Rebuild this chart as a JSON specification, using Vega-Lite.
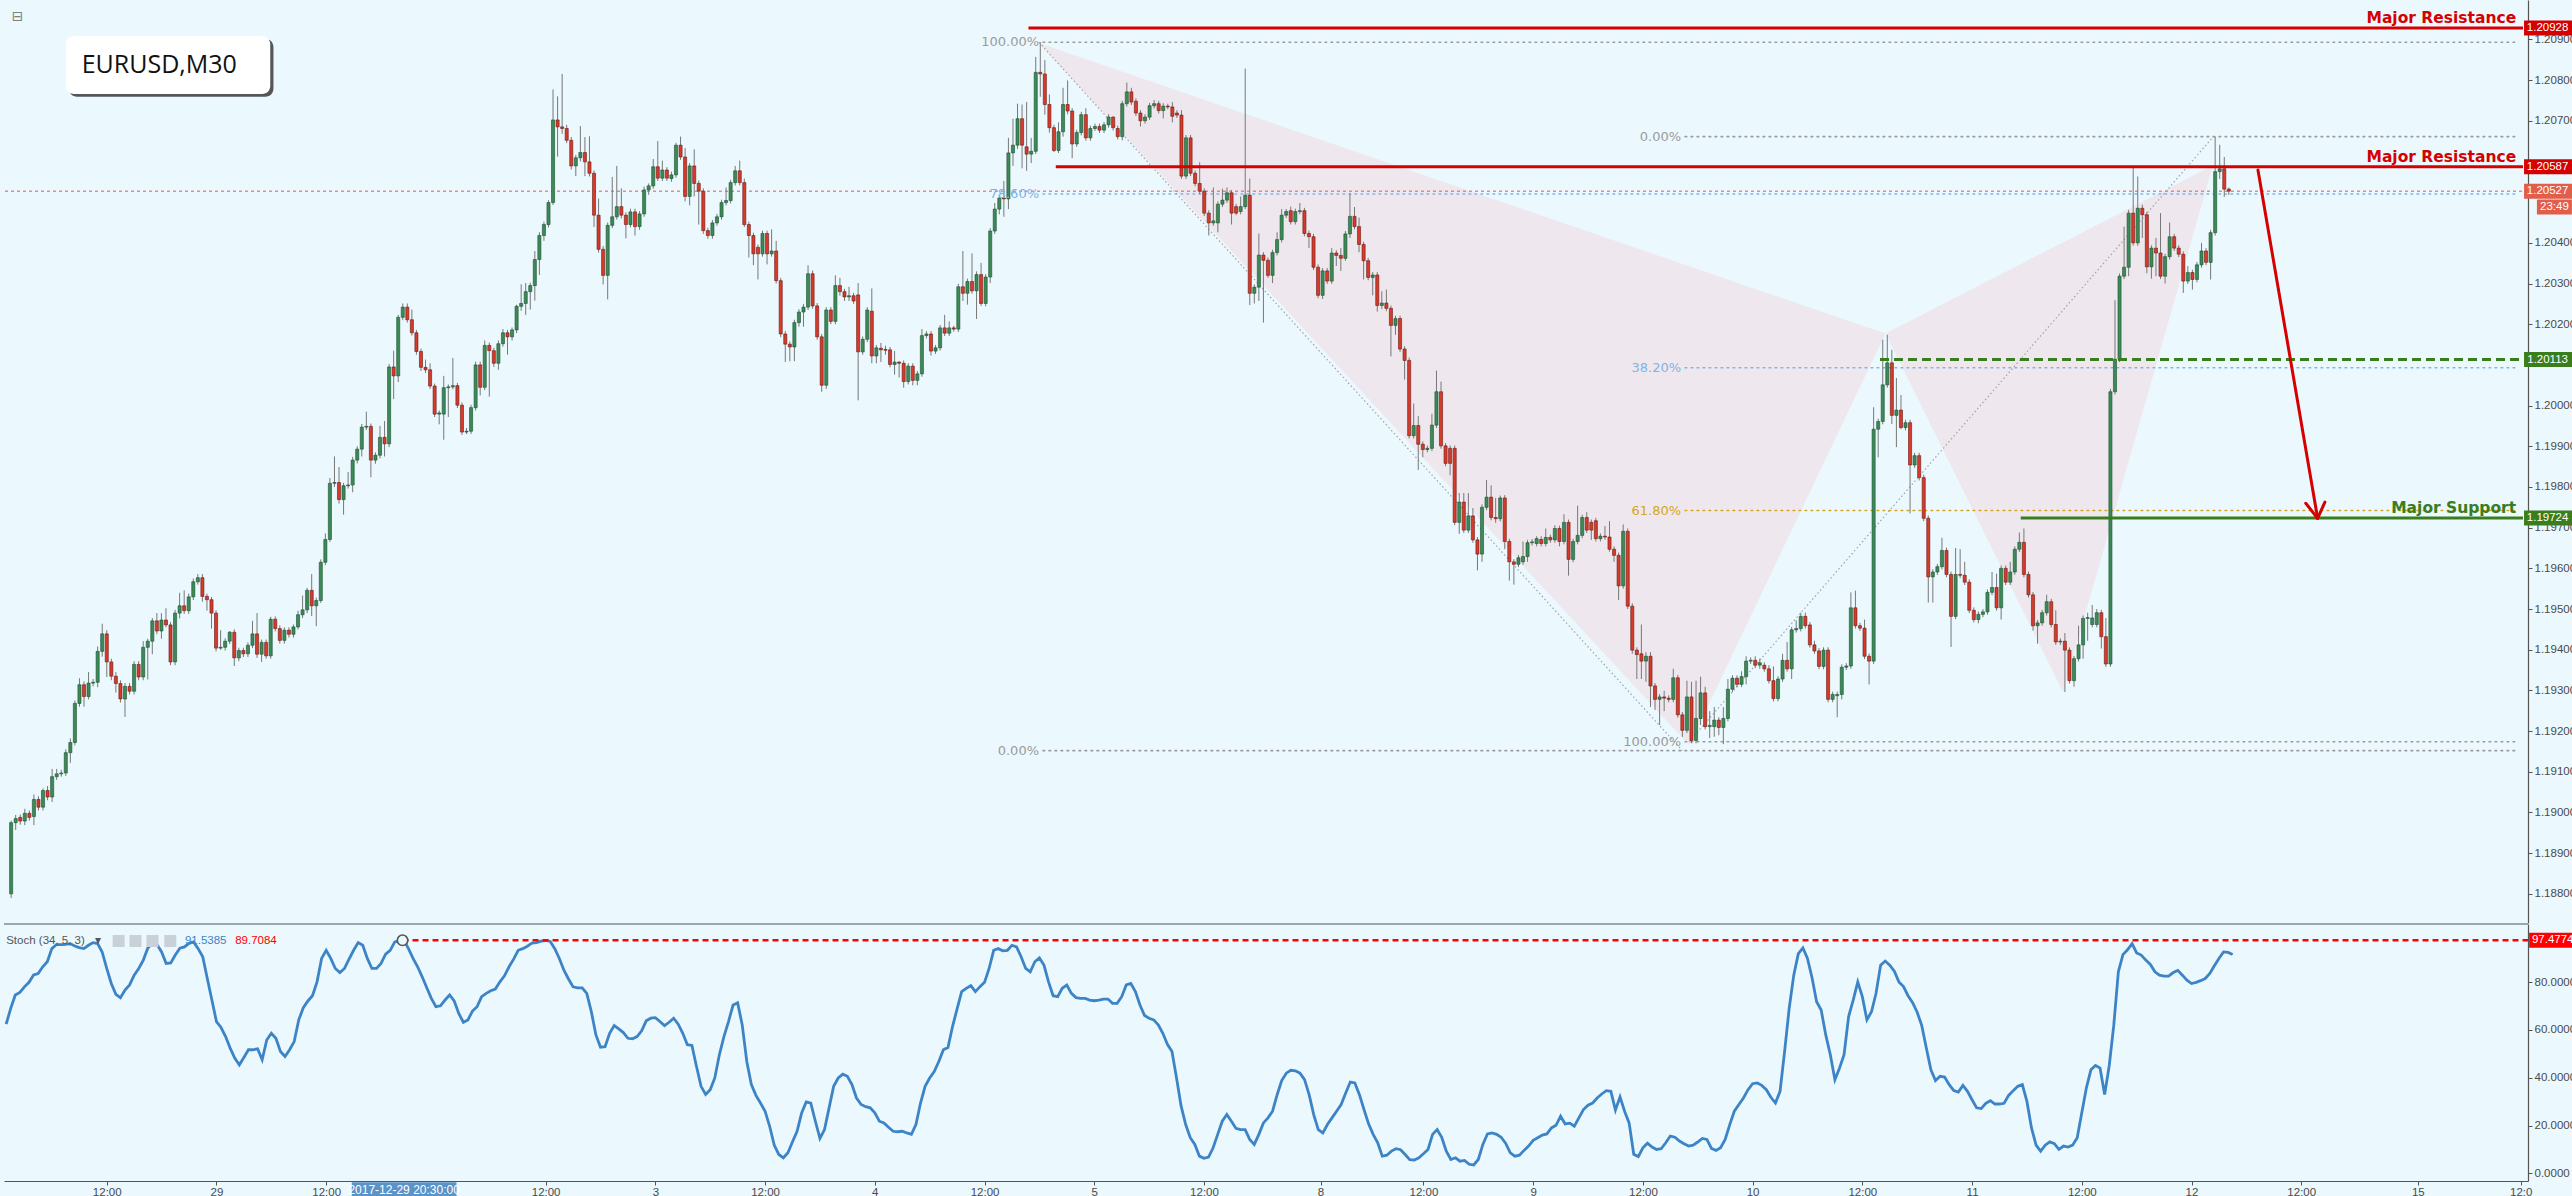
{
"$schema":"https://vega.github.io/schema/vega-lite/v6.json",
"background":"#EBF8FE",
"padding":0,
"autosize":{"type":"pad"},
"spacing":0,
"datasets":{"bars":[
{"n":-22,"o":1.188,"h":1.1898,"l":1.1879,"c":1.18975,"k":62.4},
{"n":-21,"o":1.18975,"h":1.18994,"l":1.18957,"c":1.18985,"k":69},
{"n":-20,"o":1.18988,"h":1.18995,"l":1.1897,"c":1.18979,"k":74.6},
{"n":-19,"o":1.18979,"h":1.19009,"l":1.18969,"c":1.18998,"k":75.7},
{"n":-18,"o":1.18998,"h":1.19005,"l":1.1898,"c":1.18988,"k":78},
{"n":-17,"o":1.1899,"h":1.19044,"l":1.18969,"c":1.19032,"k":79.9},
{"n":-16,"o":1.19032,"h":1.1904,"l":1.19005,"c":1.19013,"k":83},
{"n":-15,"o":1.19013,"h":1.19059,"l":1.19005,"c":1.19054,"k":83.6},
{"n":-14,"o":1.19054,"h":1.19065,"l":1.1903,"c":1.19038,"k":86.4},
{"n":-13,"o":1.19038,"h":1.19107,"l":1.19026,"c":1.19088,"k":88.5},
{"n":-12,"o":1.19088,"h":1.19107,"l":1.1908,"c":1.19095,"k":94},
{"n":-11,"o":1.19095,"h":1.19105,"l":1.19088,"c":1.19097,"k":95.7},
{"n":-10,"o":1.19097,"h":1.19155,"l":1.1909,"c":1.19147,"k":95.7},
{"n":-9,"o":1.19147,"h":1.19182,"l":1.19122,"c":1.19172,"k":95.8},
{"n":-8,"o":1.19172,"h":1.19275,"l":1.19165,"c":1.19268,"k":96.1},
{"n":-7,"o":1.19268,"h":1.1933,"l":1.1926,"c":1.19314,"k":95.1},
{"n":-6,"o":1.19314,"h":1.19322,"l":1.1926,"c":1.19285,"k":94.4},
{"n":-5,"o":1.19285,"h":1.19345,"l":1.19278,"c":1.19318,"k":94},
{"n":-4,"o":1.19318,"h":1.19328,"l":1.1931,"c":1.1932,"k":95.4},
{"n":-3,"o":1.1932,"h":1.19408,"l":1.19308,"c":1.19396,"k":96.5},
{"n":-2,"o":1.19396,"h":1.19464,"l":1.19383,"c":1.19439,"k":96.1},
{"n":-1,"o":1.19439,"h":1.19448,"l":1.19333,"c":1.1937,"k":92.6},
{"n":0,"o":1.1937,"h":1.19378,"l":1.19325,"c":1.19335,"k":85.7},
{"n":1,"o":1.19335,"h":1.19345,"l":1.19295,"c":1.19317,"k":79.4},
{"n":2,"o":1.19317,"h":1.19325,"l":1.1927,"c":1.19279,"k":74.9},
{"n":3,"o":1.19279,"h":1.19318,"l":1.19235,"c":1.1931,"k":73.5},
{"n":4,"o":1.1931,"h":1.19318,"l":1.1929,"c":1.19298,"k":76.7},
{"n":5,"o":1.19298,"h":1.19372,"l":1.1929,"c":1.19364,"k":78.8},
{"n":6,"o":1.19364,"h":1.19372,"l":1.19325,"c":1.19333,"k":82.9},
{"n":7,"o":1.19333,"h":1.19421,"l":1.19325,"c":1.19406,"k":85.7},
{"n":8,"o":1.19406,"h":1.19427,"l":1.19327,"c":1.19421,"k":89.2},
{"n":9,"o":1.19421,"h":1.19478,"l":1.19389,"c":1.19471,"k":94.3},
{"n":10,"o":1.19471,"h":1.1949,"l":1.19438,"c":1.19446,"k":96.1},
{"n":11,"o":1.19446,"h":1.1949,"l":1.19427,"c":1.19473,"k":95.7},
{"n":12,"o":1.19473,"h":1.19502,"l":1.19455,"c":1.19461,"k":92.6},
{"n":13,"o":1.19461,"h":1.19468,"l":1.19362,"c":1.1937,"k":87.8},
{"n":14,"o":1.1937,"h":1.19498,"l":1.19362,"c":1.1949,"k":88},
{"n":15,"o":1.1949,"h":1.1954,"l":1.19477,"c":1.19508,"k":91.3},
{"n":16,"o":1.19508,"h":1.19546,"l":1.19488,"c":1.19496,"k":94.2},
{"n":17,"o":1.19496,"h":1.19538,"l":1.19488,"c":1.1953,"k":94.7},
{"n":18,"o":1.1953,"h":1.19575,"l":1.19522,"c":1.19567,"k":96.2},
{"n":19,"o":1.19567,"h":1.19586,"l":1.1956,"c":1.19577,"k":96.8},
{"n":20,"o":1.19577,"h":1.19586,"l":1.19518,"c":1.19531,"k":94},
{"n":21,"o":1.19531,"h":1.19538,"l":1.19496,"c":1.19523,"k":90.6},
{"n":22,"o":1.19523,"h":1.1953,"l":1.19452,"c":1.1949,"k":81.5},
{"n":23,"o":1.1949,"h":1.19497,"l":1.19396,"c":1.19404,"k":72.5},
{"n":24,"o":1.19404,"h":1.19448,"l":1.194,"c":1.19406,"k":63.5},
{"n":25,"o":1.19406,"h":1.19428,"l":1.19398,"c":1.19421,"k":61},
{"n":26,"o":1.19421,"h":1.19446,"l":1.19414,"c":1.19443,"k":57.2},
{"n":27,"o":1.19443,"h":1.1945,"l":1.1936,"c":1.1938,"k":52.4},
{"n":28,"o":1.1938,"h":1.19405,"l":1.19372,"c":1.19398,"k":48.2},
{"n":29,"o":1.19398,"h":1.19405,"l":1.19382,"c":1.1939,"k":45.4},
{"n":30,"o":1.1939,"h":1.19418,"l":1.19382,"c":1.19411,"k":48.5},
{"n":31,"o":1.19411,"h":1.19471,"l":1.19404,"c":1.19439,"k":51.7},
{"n":32,"o":1.19439,"h":1.1949,"l":1.1938,"c":1.19389,"k":51.7},
{"n":33,"o":1.19389,"h":1.19425,"l":1.1937,"c":1.19418,"k":52.1},
{"n":34,"o":1.19418,"h":1.19425,"l":1.19378,"c":1.19385,"k":47.5},
{"n":35,"o":1.19385,"h":1.19481,"l":1.19378,"c":1.19475,"k":55.8},
{"n":36,"o":1.19475,"h":1.19482,"l":1.19445,"c":1.19452,"k":58.6},
{"n":37,"o":1.19452,"h":1.1946,"l":1.19415,"c":1.19423,"k":56.5},
{"n":38,"o":1.19423,"h":1.19455,"l":1.19415,"c":1.19448,"k":51},
{"n":39,"o":1.19448,"h":1.19455,"l":1.1943,"c":1.19438,"k":48.9},
{"n":40,"o":1.19438,"h":1.19462,"l":1.1943,"c":1.19456,"k":51.7},
{"n":41,"o":1.19456,"h":1.19496,"l":1.1945,"c":1.19486,"k":55.1},
{"n":42,"o":1.19486,"h":1.19533,"l":1.19478,"c":1.19498,"k":64.2},
{"n":43,"o":1.19498,"h":1.19552,"l":1.1949,"c":1.19546,"k":69.3},
{"n":44,"o":1.19546,"h":1.19586,"l":1.19483,"c":1.19508,"k":72.1},
{"n":45,"o":1.19508,"h":1.19528,"l":1.19458,"c":1.19521,"k":74.3},
{"n":46,"o":1.19521,"h":1.19622,"l":1.19515,"c":1.19615,"k":80.1},
{"n":47,"o":1.19615,"h":1.19686,"l":1.19608,"c":1.19671,"k":89.9},
{"n":48,"o":1.19671,"h":1.19822,"l":1.19665,"c":1.19809,"k":93.3},
{"n":49,"o":1.19809,"h":1.19875,"l":1.198,"c":1.19811,"k":89.9},
{"n":50,"o":1.19811,"h":1.19849,"l":1.19759,"c":1.19769,"k":85.7},
{"n":51,"o":1.19769,"h":1.1981,"l":1.19732,"c":1.19803,"k":84},
{"n":52,"o":1.19803,"h":1.19837,"l":1.19796,"c":1.19805,"k":85.7},
{"n":53,"o":1.19805,"h":1.19874,"l":1.19787,"c":1.19866,"k":89.6},
{"n":54,"o":1.19866,"h":1.199,"l":1.19858,"c":1.19893,"k":93.3},
{"n":55,"o":1.19893,"h":1.19955,"l":1.19875,"c":1.19947,"k":96.5},
{"n":56,"o":1.19947,"h":1.19985,"l":1.1994,"c":1.19949,"k":95.4},
{"n":57,"o":1.19949,"h":1.19956,"l":1.19824,"c":1.19866,"k":89.9},
{"n":58,"o":1.19866,"h":1.19885,"l":1.19857,"c":1.19878,"k":85.7},
{"n":59,"o":1.19878,"h":1.1995,"l":1.1987,"c":1.19922,"k":85.7},
{"n":60,"o":1.19922,"h":1.19962,"l":1.19875,"c":1.19906,"k":87.8},
{"n":61,"o":1.19906,"h":1.20102,"l":1.19898,"c":1.20095,"k":91.7},
{"n":62,"o":1.20095,"h":1.20135,"l":1.20016,"c":1.20073,"k":93.3},
{"n":63,"o":1.20073,"h":1.20223,"l":1.20058,"c":1.20217,"k":96.8},
{"n":64,"o":1.20217,"h":1.20251,"l":1.2021,"c":1.20242,"k":97.2},
{"n":65,"o":1.20242,"h":1.20251,"l":1.20204,"c":1.20211,"k":97.48},
{"n":66,"o":1.20211,"h":1.20236,"l":1.20172,"c":1.20179,"k":94},
{"n":67,"o":1.20179,"h":1.20186,"l":1.20125,"c":1.20133,"k":89.9},
{"n":68,"o":1.20133,"h":1.2014,"l":1.20085,"c":1.20094,"k":86.4},
{"n":69,"o":1.20094,"h":1.20113,"l":1.2008,"c":1.20088,"k":82.2},
{"n":70,"o":1.20088,"h":1.20104,"l":1.20041,"c":1.20048,"k":77.6},
{"n":71,"o":1.20048,"h":1.20054,"l":1.19972,"c":1.19979,"k":73.2},
{"n":72,"o":1.19979,"h":1.19988,"l":1.19954,"c":1.19982,"k":69.7},
{"n":73,"o":1.19979,"h":1.20073,"l":1.19916,"c":1.20044,"k":70.1},
{"n":74,"o":1.20044,"h":1.20052,"l":1.19972,"c":1.20046,"k":72.5},
{"n":75,"o":1.20046,"h":1.20117,"l":1.2004,"c":1.20049,"k":74.6},
{"n":76,"o":1.20049,"h":1.20056,"l":1.19994,"c":1.20001,"k":72.1},
{"n":77,"o":1.20001,"h":1.20008,"l":1.19928,"c":1.19935,"k":66.9},
{"n":78,"o":1.19935,"h":1.19945,"l":1.1993,"c":1.19937,"k":63.2},
{"n":79,"o":1.19937,"h":1.20002,"l":1.1993,"c":1.19995,"k":64.2},
{"n":80,"o":1.19995,"h":1.20108,"l":1.19988,"c":1.201,"k":67.9},
{"n":81,"o":1.201,"h":1.20108,"l":1.20025,"c":1.20045,"k":69.7},
{"n":82,"o":1.20045,"h":1.2016,"l":1.20038,"c":1.20148,"k":73.9},
{"n":83,"o":1.20148,"h":1.20155,"l":1.20022,"c":1.20135,"k":75.3},
{"n":84,"o":1.20135,"h":1.20142,"l":1.20095,"c":1.20104,"k":76.4},
{"n":85,"o":1.20104,"h":1.2016,"l":1.20088,"c":1.20152,"k":77.1},
{"n":86,"o":1.20152,"h":1.20188,"l":1.20145,"c":1.20179,"k":80.1},
{"n":87,"o":1.20179,"h":1.20186,"l":1.20125,"c":1.20169,"k":82.6},
{"n":88,"o":1.20169,"h":1.20192,"l":1.2016,"c":1.20186,"k":86.4},
{"n":89,"o":1.20186,"h":1.20248,"l":1.20178,"c":1.20244,"k":89.6},
{"n":90,"o":1.20244,"h":1.20298,"l":1.20233,"c":1.20251,"k":93.3},
{"n":91,"o":1.20251,"h":1.20301,"l":1.20223,"c":1.2028,"k":94},
{"n":92,"o":1.2028,"h":1.20302,"l":1.20236,"c":1.20295,"k":95},
{"n":93,"o":1.20295,"h":1.2038,"l":1.20258,"c":1.20359,"k":96.3},
{"n":94,"o":1.20359,"h":1.20426,"l":1.20321,"c":1.20418,"k":96.5},
{"n":95,"o":1.20418,"h":1.20452,"l":1.20405,"c":1.20445,"k":97.1},
{"n":96,"o":1.20445,"h":1.20505,"l":1.20438,"c":1.20499,"k":97.4},
{"n":97,"o":1.20499,"h":1.20777,"l":1.20493,"c":1.20702,"k":97},
{"n":98,"o":1.20702,"h":1.2076,"l":1.20612,"c":1.20685,"k":94},
{"n":99,"o":1.20685,"h":1.20815,"l":1.20668,"c":1.20681,"k":89.9},
{"n":100,"o":1.20681,"h":1.2069,"l":1.20645,"c":1.20652,"k":85},
{"n":101,"o":1.20652,"h":1.2066,"l":1.2058,"c":1.20589,"k":81.3},
{"n":102,"o":1.20589,"h":1.20616,"l":1.20564,"c":1.20609,"k":78},
{"n":103,"o":1.20609,"h":1.20687,"l":1.206,"c":1.20622,"k":77.6},
{"n":104,"o":1.20622,"h":1.2066,"l":1.20564,"c":1.20599,"k":77.6},
{"n":105,"o":1.20599,"h":1.20662,"l":1.20563,"c":1.20571,"k":75.3},
{"n":106,"o":1.20571,"h":1.20578,"l":1.20439,"c":1.20468,"k":67.6},
{"n":107,"o":1.20468,"h":1.20509,"l":1.20376,"c":1.20384,"k":57.9},
{"n":108,"o":1.20384,"h":1.20392,"l":1.20298,"c":1.2032,"k":52.8},
{"n":109,"o":1.2032,"h":1.2045,"l":1.20261,"c":1.20443,"k":53},
{"n":110,"o":1.20443,"h":1.20562,"l":1.20436,"c":1.20464,"k":58.6},
{"n":111,"o":1.20464,"h":1.20589,"l":1.20457,"c":1.20489,"k":61.8},
{"n":112,"o":1.20489,"h":1.20534,"l":1.2046,"c":1.20468,"k":60.4},
{"n":113,"o":1.20468,"h":1.20475,"l":1.20411,"c":1.20445,"k":58.9},
{"n":114,"o":1.20445,"h":1.20484,"l":1.20438,"c":1.20476,"k":56.5},
{"n":115,"o":1.20476,"h":1.20484,"l":1.20418,"c":1.2044,"k":56.3},
{"n":116,"o":1.2044,"h":1.20478,"l":1.20432,"c":1.20471,"k":57.2},
{"n":117,"o":1.20471,"h":1.20538,"l":1.20464,"c":1.2053,"k":59.6},
{"n":118,"o":1.2053,"h":1.20546,"l":1.20518,"c":1.2054,"k":63.8},
{"n":119,"o":1.2054,"h":1.20606,"l":1.20533,"c":1.20587,"k":64.9},
{"n":120,"o":1.20587,"h":1.2065,"l":1.20552,"c":1.20559,"k":65.1},
{"n":121,"o":1.20559,"h":1.20602,"l":1.20552,"c":1.20579,"k":63.5},
{"n":122,"o":1.20579,"h":1.20586,"l":1.20552,"c":1.20559,"k":61.8},
{"n":123,"o":1.20558,"h":1.20575,"l":1.2055,"c":1.20567,"k":63.2},
{"n":124,"o":1.20567,"h":1.20646,"l":1.2056,"c":1.2064,"k":64.9},
{"n":125,"o":1.2064,"h":1.20661,"l":1.20604,"c":1.20611,"k":62.4},
{"n":126,"o":1.20611,"h":1.20633,"l":1.20502,"c":1.20514,"k":58.6},
{"n":127,"o":1.20514,"h":1.20596,"l":1.20492,"c":1.20589,"k":53.8},
{"n":128,"o":1.20589,"h":1.2063,"l":1.20514,"c":1.20546,"k":53.5},
{"n":129,"o":1.20546,"h":1.20553,"l":1.20445,"c":1.20527,"k":44.7},
{"n":130,"o":1.20527,"h":1.20534,"l":1.20422,"c":1.2043,"k":36.4},
{"n":131,"o":1.2043,"h":1.20437,"l":1.2041,"c":1.20418,"k":33},
{"n":132,"o":1.20418,"h":1.20456,"l":1.2041,"c":1.20449,"k":35},
{"n":133,"o":1.20449,"h":1.20471,"l":1.20442,"c":1.20464,"k":39.9},
{"n":134,"o":1.20464,"h":1.20506,"l":1.20457,"c":1.20499,"k":49.6},
{"n":135,"o":1.20499,"h":1.20536,"l":1.20492,"c":1.20504,"k":57.2},
{"n":136,"o":1.20504,"h":1.20555,"l":1.20497,"c":1.20548,"k":63.5},
{"n":137,"o":1.20548,"h":1.20589,"l":1.20541,"c":1.20577,"k":70.4},
{"n":138,"o":1.20577,"h":1.20602,"l":1.20541,"c":1.20548,"k":71.3},
{"n":139,"o":1.20548,"h":1.20558,"l":1.20439,"c":1.20445,"k":62.1},
{"n":140,"o":1.20445,"h":1.20452,"l":1.20364,"c":1.20418,"k":46.8},
{"n":141,"o":1.20418,"h":1.20425,"l":1.20345,"c":1.20373,"k":37.1},
{"n":142,"o":1.20389,"h":1.20396,"l":1.2031,"c":1.20373,"k":32.6},
{"n":143,"o":1.20373,"h":1.2043,"l":1.20366,"c":1.20423,"k":29.4},
{"n":144,"o":1.20423,"h":1.2043,"l":1.20347,"c":1.20373,"k":26},
{"n":145,"o":1.20373,"h":1.20433,"l":1.20366,"c":1.2038,"k":19.7},
{"n":146,"o":1.2038,"h":1.20405,"l":1.203,"c":1.20307,"k":11.8},
{"n":147,"o":1.20307,"h":1.20314,"l":1.20168,"c":1.20176,"k":7.9},
{"n":148,"o":1.20176,"h":1.20183,"l":1.20107,"c":1.20151,"k":6.5},
{"n":149,"o":1.20151,"h":1.20158,"l":1.20109,"c":1.20144,"k":8.6},
{"n":150,"o":1.20144,"h":1.20211,"l":1.20109,"c":1.20204,"k":13.2},
{"n":151,"o":1.20204,"h":1.20237,"l":1.20194,"c":1.2023,"k":17.6},
{"n":152,"o":1.2023,"h":1.2025,"l":1.20194,"c":1.20242,"k":25.3},
{"n":153,"o":1.20242,"h":1.20345,"l":1.20235,"c":1.20324,"k":29.9},
{"n":154,"o":1.20324,"h":1.20332,"l":1.20238,"c":1.20245,"k":29.4},
{"n":155,"o":1.20245,"h":1.20252,"l":1.20162,"c":1.20169,"k":21.8},
{"n":156,"o":1.20169,"h":1.20176,"l":1.20034,"c":1.2005,"k":14.6},
{"n":157,"o":1.2005,"h":1.20242,"l":1.20041,"c":1.20235,"k":18.3},
{"n":158,"o":1.20235,"h":1.20242,"l":1.202,"c":1.20207,"k":27.4},
{"n":159,"o":1.20207,"h":1.2032,"l":1.202,"c":1.20295,"k":36.4},
{"n":160,"o":1.20295,"h":1.20314,"l":1.2027,"c":1.2028,"k":39.9},
{"n":161,"o":1.2028,"h":1.20287,"l":1.20257,"c":1.20267,"k":41.5},
{"n":162,"o":1.20267,"h":1.20292,"l":1.20257,"c":1.2027,"k":40.6},
{"n":163,"o":1.2027,"h":1.20277,"l":1.2025,"c":1.20257,"k":37.1},
{"n":164,"o":1.20272,"h":1.20301,"l":1.20013,"c":1.20132,"k":31.5},
{"n":165,"o":1.20132,"h":1.2017,"l":1.20125,"c":1.20163,"k":28.8},
{"n":166,"o":1.20163,"h":1.20242,"l":1.20156,"c":1.20235,"k":27.9},
{"n":167,"o":1.20232,"h":1.20288,"l":1.20104,"c":1.20122,"k":27.4},
{"n":168,"o":1.20122,"h":1.20149,"l":1.20104,"c":1.20142,"k":25.3},
{"n":169,"o":1.20141,"h":1.20154,"l":1.20107,"c":1.20137,"k":21.8},
{"n":170,"o":1.20138,"h":1.20147,"l":1.20125,"c":1.20136,"k":21.1},
{"n":171,"o":1.20137,"h":1.20144,"l":1.20094,"c":1.20101,"k":19.3},
{"n":172,"o":1.20101,"h":1.20134,"l":1.20076,"c":1.20107,"k":17.6},
{"n":173,"o":1.20107,"h":1.20109,"l":1.20069,"c":1.20104,"k":17.4},
{"n":174,"o":1.20104,"h":1.20111,"l":1.20044,"c":1.20059,"k":17.6},
{"n":175,"o":1.20059,"h":1.20104,"l":1.20052,"c":1.20097,"k":16.9},
{"n":176,"o":1.20097,"h":1.20104,"l":1.2005,"c":1.20062,"k":16.3},
{"n":177,"o":1.20062,"h":1.20085,"l":1.2005,"c":1.20078,"k":20.4},
{"n":178,"o":1.20078,"h":1.20188,"l":1.20071,"c":1.20172,"k":29.4},
{"n":179,"o":1.20172,"h":1.20183,"l":1.20165,"c":1.20176,"k":36.4},
{"n":180,"o":1.20176,"h":1.20183,"l":1.20123,"c":1.20134,"k":39.9},
{"n":181,"o":1.20134,"h":1.20149,"l":1.20127,"c":1.20142,"k":42.6},
{"n":182,"o":1.20142,"h":1.20198,"l":1.20135,"c":1.20191,"k":46.8},
{"n":183,"o":1.20191,"h":1.20223,"l":1.20171,"c":1.20178,"k":51.7},
{"n":184,"o":1.20178,"h":1.20207,"l":1.20171,"c":1.20191,"k":52.6},
{"n":185,"o":1.20191,"h":1.20196,"l":1.20182,"c":1.20188,"k":61.4},
{"n":186,"o":1.20188,"h":1.20299,"l":1.20181,"c":1.20292,"k":68.8},
{"n":187,"o":1.20292,"h":1.2038,"l":1.20257,"c":1.20276,"k":76},
{"n":188,"o":1.20276,"h":1.20312,"l":1.20248,"c":1.20305,"k":77.4},
{"n":189,"o":1.20305,"h":1.20374,"l":1.20275,"c":1.20282,"k":78.5},
{"n":190,"o":1.20282,"h":1.2033,"l":1.20213,"c":1.20322,"k":76},
{"n":191,"o":1.20322,"h":1.20351,"l":1.20245,"c":1.20251,"k":78.1},
{"n":192,"o":1.20251,"h":1.20323,"l":1.20244,"c":1.20316,"k":79.9},
{"n":193,"o":1.20316,"h":1.20436,"l":1.20301,"c":1.20429,"k":85.7},
{"n":194,"o":1.20429,"h":1.20498,"l":1.20422,"c":1.20483,"k":93.3},
{"n":195,"o":1.20483,"h":1.20517,"l":1.2047,"c":1.2051,"k":94},
{"n":196,"o":1.2051,"h":1.20552,"l":1.20464,"c":1.20508,"k":93.1},
{"n":197,"o":1.20508,"h":1.20658,"l":1.20483,"c":1.20621,"k":93.3},
{"n":198,"o":1.20621,"h":1.20705,"l":1.20589,"c":1.2064,"k":95.4},
{"n":199,"o":1.2064,"h":1.20742,"l":1.20631,"c":1.20705,"k":94.7},
{"n":200,"o":1.20705,"h":1.2074,"l":1.20583,"c":1.2064,"k":90.6},
{"n":201,"o":1.20636,"h":1.20746,"l":1.20577,"c":1.20618,"k":85.7},
{"n":202,"o":1.20618,"h":1.20658,"l":1.20596,"c":1.20625,"k":84.3},
{"n":203,"o":1.20625,"h":1.20857,"l":1.20618,"c":1.20819,"k":88.5},
{"n":204,"o":1.20819,"h":1.20893,"l":1.20759,"c":1.20815,"k":90.1},
{"n":205,"o":1.20815,"h":1.20849,"l":1.20715,"c":1.2074,"k":87.1},
{"n":206,"o":1.2074,"h":1.20765,"l":1.20671,"c":1.20683,"k":80.1},
{"n":207,"o":1.20683,"h":1.2069,"l":1.20623,"c":1.20627,"k":74.3},
{"n":208,"o":1.20627,"h":1.20696,"l":1.20621,"c":1.20673,"k":73.9},
{"n":209,"o":1.20673,"h":1.20781,"l":1.20661,"c":1.2074,"k":77.4},
{"n":210,"o":1.2074,"h":1.20799,"l":1.20716,"c":1.20724,"k":78.8},
{"n":211,"o":1.20724,"h":1.20731,"l":1.20608,"c":1.20643,"k":75.3},
{"n":212,"o":1.20643,"h":1.20678,"l":1.20636,"c":1.20671,"k":73.5},
{"n":213,"o":1.20671,"h":1.20722,"l":1.20664,"c":1.20715,"k":73.2},
{"n":214,"o":1.20715,"h":1.20731,"l":1.20651,"c":1.20658,"k":73.2},
{"n":215,"o":1.20658,"h":1.20688,"l":1.20651,"c":1.20681,"k":72.5},
{"n":216,"o":1.20681,"h":1.20693,"l":1.20675,"c":1.20686,"k":72.2},
{"n":217,"o":1.20686,"h":1.20693,"l":1.2067,"c":1.20677,"k":72.5},
{"n":218,"o":1.20677,"h":1.20697,"l":1.2067,"c":1.2069,"k":72.9},
{"n":219,"o":1.2069,"h":1.20716,"l":1.20683,"c":1.20709,"k":72.9},
{"n":220,"o":1.20709,"h":1.20711,"l":1.20676,"c":1.20683,"k":71.1},
{"n":221,"o":1.20681,"h":1.20688,"l":1.20654,"c":1.20661,"k":71.1},
{"n":222,"o":1.20661,"h":1.20749,"l":1.20652,"c":1.20742,"k":73.9},
{"n":223,"o":1.20742,"h":1.20794,"l":1.20735,"c":1.20771,"k":78.8},
{"n":224,"o":1.20771,"h":1.20781,"l":1.20739,"c":1.20746,"k":79.4},
{"n":225,"o":1.20748,"h":1.20755,"l":1.20712,"c":1.20719,"k":76},
{"n":226,"o":1.20719,"h":1.20726,"l":1.20686,"c":1.207,"k":70.4},
{"n":227,"o":1.207,"h":1.20716,"l":1.20693,"c":1.20709,"k":66},
{"n":228,"o":1.20709,"h":1.20744,"l":1.20702,"c":1.20737,"k":64.9},
{"n":229,"o":1.20737,"h":1.20751,"l":1.2073,"c":1.20742,"k":64.2},
{"n":230,"o":1.20742,"h":1.20749,"l":1.20718,"c":1.20725,"k":62.1},
{"n":231,"o":1.20725,"h":1.20743,"l":1.20706,"c":1.20736,"k":58.6},
{"n":232,"o":1.20736,"h":1.20742,"l":1.20728,"c":1.20734,"k":54},
{"n":233,"o":1.20734,"h":1.20746,"l":1.20696,"c":1.20711,"k":51},
{"n":234,"o":1.20719,"h":1.20726,"l":1.20707,"c":1.20714,"k":39.9},
{"n":235,"o":1.20714,"h":1.20726,"l":1.20557,"c":1.20564,"k":28.1},
{"n":236,"o":1.20564,"h":1.20665,"l":1.20557,"c":1.20658,"k":20.4},
{"n":237,"o":1.20658,"h":1.20665,"l":1.20564,"c":1.20571,"k":14.9},
{"n":238,"o":1.20571,"h":1.20578,"l":1.20539,"c":1.20546,"k":12.1},
{"n":239,"o":1.20546,"h":1.20598,"l":1.2052,"c":1.20527,"k":7.2},
{"n":240,"o":1.20527,"h":1.20534,"l":1.20466,"c":1.20473,"k":6.3},
{"n":241,"o":1.20473,"h":1.2048,"l":1.20418,"c":1.20449,"k":6.8},
{"n":242,"o":1.20449,"h":1.20536,"l":1.20442,"c":1.20454,"k":10.7},
{"n":243,"o":1.20449,"h":1.20502,"l":1.20426,"c":1.20495,"k":16.3},
{"n":244,"o":1.20495,"h":1.20533,"l":1.20488,"c":1.20505,"k":21.8},
{"n":245,"o":1.20505,"h":1.20536,"l":1.20498,"c":1.20523,"k":24.6},
{"n":246,"o":1.20523,"h":1.2053,"l":1.20445,"c":1.20473,"k":21.8},
{"n":247,"o":1.20489,"h":1.20496,"l":1.20468,"c":1.20473,"k":18.8},
{"n":248,"o":1.20477,"h":1.20514,"l":1.2047,"c":1.20489,"k":18.3},
{"n":249,"o":1.20489,"h":1.20828,"l":1.20483,"c":1.20517,"k":18.3},
{"n":250,"o":1.20517,"h":1.20558,"l":1.20247,"c":1.20276,"k":14.2},
{"n":251,"o":1.20276,"h":1.20298,"l":1.20251,"c":1.20291,"k":12.1},
{"n":252,"o":1.20291,"h":1.20423,"l":1.20257,"c":1.2037,"k":16.3},
{"n":253,"o":1.2037,"h":1.20377,"l":1.20204,"c":1.20357,"k":21.1},
{"n":254,"o":1.20357,"h":1.20364,"l":1.20314,"c":1.2032,"k":23.2},
{"n":255,"o":1.2032,"h":1.20383,"l":1.20301,"c":1.20376,"k":26},
{"n":256,"o":1.20376,"h":1.20426,"l":1.20369,"c":1.20408,"k":32.9},
{"n":257,"o":1.20408,"h":1.20483,"l":1.20401,"c":1.20468,"k":38.8},
{"n":258,"o":1.20468,"h":1.20483,"l":1.20461,"c":1.20477,"k":41.9},
{"n":259,"o":1.20479,"h":1.20489,"l":1.20445,"c":1.20452,"k":43.1},
{"n":260,"o":1.20452,"h":1.20484,"l":1.20445,"c":1.20477,"k":42.9},
{"n":261,"o":1.20477,"h":1.20498,"l":1.2047,"c":1.20479,"k":41.9},
{"n":262,"o":1.20479,"h":1.20486,"l":1.20416,"c":1.20423,"k":39.2},
{"n":263,"o":1.20423,"h":1.2043,"l":1.20387,"c":1.20415,"k":32.9},
{"n":264,"o":1.20415,"h":1.20422,"l":1.20333,"c":1.2034,"k":24.6},
{"n":265,"o":1.2034,"h":1.20347,"l":1.20264,"c":1.20271,"k":18.3},
{"n":266,"o":1.20271,"h":1.20338,"l":1.20262,"c":1.20331,"k":16.9},
{"n":267,"o":1.20331,"h":1.20338,"l":1.20299,"c":1.20306,"k":20.4},
{"n":268,"o":1.20306,"h":1.20387,"l":1.20299,"c":1.20375,"k":23.2},
{"n":269,"o":1.20375,"h":1.20382,"l":1.20343,"c":1.20369,"k":26},
{"n":270,"o":1.20369,"h":1.20387,"l":1.20331,"c":1.20362,"k":28.8},
{"n":271,"o":1.20362,"h":1.20429,"l":1.20356,"c":1.20422,"k":33.6},
{"n":272,"o":1.20422,"h":1.20522,"l":1.20412,"c":1.20465,"k":38.2},
{"n":273,"o":1.20465,"h":1.20488,"l":1.20433,"c":1.2044,"k":37.8},
{"n":274,"o":1.2044,"h":1.20462,"l":1.20377,"c":1.20396,"k":32.9},
{"n":275,"o":1.20396,"h":1.20403,"l":1.2031,"c":1.20356,"k":26.7},
{"n":276,"o":1.20356,"h":1.20363,"l":1.20308,"c":1.20315,"k":20.7},
{"n":277,"o":1.20315,"h":1.20328,"l":1.20271,"c":1.20321,"k":16.3},
{"n":278,"o":1.20321,"h":1.20328,"l":1.20231,"c":1.20246,"k":12.8},
{"n":279,"o":1.20246,"h":1.20281,"l":1.20237,"c":1.20252,"k":7.2},
{"n":280,"o":1.20252,"h":1.20285,"l":1.20232,"c":1.20239,"k":7.6},
{"n":281,"o":1.20239,"h":1.20246,"l":1.20121,"c":1.20197,"k":9.3},
{"n":282,"o":1.20197,"h":1.20221,"l":1.20174,"c":1.20214,"k":10.3},
{"n":283,"o":1.20214,"h":1.20221,"l":1.20132,"c":1.20139,"k":9.9},
{"n":284,"o":1.20139,"h":1.20146,"l":1.20064,"c":1.20111,"k":7.9},
{"n":285,"o":1.20111,"h":1.20118,"l":1.19919,"c":1.19926,"k":5.7},
{"n":286,"o":1.19926,"h":1.20005,"l":1.19919,"c":1.19951,"k":5.6},
{"n":287,"o":1.19951,"h":1.19974,"l":1.19842,"c":1.19905,"k":6.5},
{"n":288,"o":1.19905,"h":1.19912,"l":1.19873,"c":1.19892,"k":8.2},
{"n":289,"o":1.19892,"h":1.19902,"l":1.19885,"c":1.19895,"k":10},
{"n":290,"o":1.19895,"h":1.1998,"l":1.19888,"c":1.19952,"k":16.3},
{"n":291,"o":1.19952,"h":1.20086,"l":1.19945,"c":1.20034,"k":18.3},
{"n":292,"o":1.20034,"h":1.20059,"l":1.19894,"c":1.19901,"k":15.1},
{"n":293,"o":1.19901,"h":1.19908,"l":1.19851,"c":1.19858,"k":9.3},
{"n":294,"o":1.19895,"h":1.19902,"l":1.19829,"c":1.19858,"k":5.8},
{"n":295,"o":1.19895,"h":1.19902,"l":1.19706,"c":1.19713,"k":6.5},
{"n":296,"o":1.19713,"h":1.19785,"l":1.19685,"c":1.19763,"k":5.1},
{"n":297,"o":1.19763,"h":1.19785,"l":1.19687,"c":1.19694,"k":5.4},
{"n":298,"o":1.19694,"h":1.19785,"l":1.19687,"c":1.19729,"k":3.8},
{"n":299,"o":1.19729,"h":1.19748,"l":1.19663,"c":1.1967,"k":3.5},
{"n":300,"o":1.1967,"h":1.19677,"l":1.19595,"c":1.19635,"k":5.8},
{"n":301,"o":1.19635,"h":1.19757,"l":1.19616,"c":1.1975,"k":12.1},
{"n":302,"o":1.1975,"h":1.19817,"l":1.19743,"c":1.19775,"k":16.5},
{"n":303,"o":1.19775,"h":1.19804,"l":1.19718,"c":1.19725,"k":16.9},
{"n":304,"o":1.19725,"h":1.19773,"l":1.19712,"c":1.19722,"k":16.3},
{"n":305,"o":1.19722,"h":1.19779,"l":1.19715,"c":1.19773,"k":15.1},
{"n":306,"o":1.19773,"h":1.1978,"l":1.19647,"c":1.19666,"k":12.5},
{"n":307,"o":1.19666,"h":1.19673,"l":1.1957,"c":1.19616,"k":8.6},
{"n":308,"o":1.19616,"h":1.19623,"l":1.1956,"c":1.1961,"k":7.2},
{"n":309,"o":1.1961,"h":1.19633,"l":1.19603,"c":1.19626,"k":7.6},
{"n":310,"o":1.19616,"h":1.19666,"l":1.19609,"c":1.19629,"k":9.6},
{"n":311,"o":1.19629,"h":1.1967,"l":1.19616,"c":1.19663,"k":11.4},
{"n":312,"o":1.19663,"h":1.19672,"l":1.19656,"c":1.19665,"k":13.8},
{"n":313,"o":1.19661,"h":1.19679,"l":1.19654,"c":1.19673,"k":14.9},
{"n":314,"o":1.19671,"h":1.19679,"l":1.19654,"c":1.19661,"k":16},
{"n":315,"o":1.19661,"h":1.19698,"l":1.19654,"c":1.19676,"k":16.5},
{"n":316,"o":1.19676,"h":1.19683,"l":1.19663,"c":1.1967,"k":19},
{"n":317,"o":1.1967,"h":1.19706,"l":1.19663,"c":1.19698,"k":20.1},
{"n":318,"o":1.19698,"h":1.19705,"l":1.19654,"c":1.19666,"k":23.9},
{"n":319,"o":1.19666,"h":1.19733,"l":1.19659,"c":1.19713,"k":20.7},
{"n":320,"o":1.19713,"h":1.1972,"l":1.19582,"c":1.19622,"k":21},
{"n":321,"o":1.19622,"h":1.19673,"l":1.19615,"c":1.19666,"k":19.7},
{"n":322,"o":1.19666,"h":1.19754,"l":1.19659,"c":1.19681,"k":23.2},
{"n":323,"o":1.19681,"h":1.19732,"l":1.19674,"c":1.19725,"k":26.7},
{"n":324,"o":1.19725,"h":1.19738,"l":1.19687,"c":1.19694,"k":28.5},
{"n":325,"o":1.19713,"h":1.1972,"l":1.1967,"c":1.19694,"k":29.4},
{"n":326,"o":1.19717,"h":1.19724,"l":1.19666,"c":1.19673,"k":31.5},
{"n":327,"o":1.19673,"h":1.19686,"l":1.19666,"c":1.19679,"k":33.2},
{"n":328,"o":1.19679,"h":1.19704,"l":1.1967,"c":1.19677,"k":34.6},
{"n":329,"o":1.19677,"h":1.19716,"l":1.19641,"c":1.19647,"k":34.3},
{"n":330,"o":1.19647,"h":1.19654,"l":1.19616,"c":1.19632,"k":26.5},
{"n":331,"o":1.19632,"h":1.19639,"l":1.19522,"c":1.19557,"k":32},
{"n":332,"o":1.19557,"h":1.19708,"l":1.1955,"c":1.19691,"k":26},
{"n":333,"o":1.19691,"h":1.19698,"l":1.195,"c":1.19507,"k":21},
{"n":334,"o":1.19507,"h":1.19514,"l":1.1939,"c":1.19399,"k":8},
{"n":335,"o":1.19399,"h":1.19406,"l":1.19328,"c":1.19388,"k":7},
{"n":336,"o":1.1939,"h":1.19462,"l":1.19328,"c":1.19372,"k":10.7},
{"n":337,"o":1.19372,"h":1.19394,"l":1.19321,"c":1.19384,"k":12.6},
{"n":338,"o":1.19384,"h":1.19394,"l":1.19259,"c":1.19311,"k":11},
{"n":339,"o":1.19311,"h":1.19318,"l":1.19252,"c":1.19278,"k":10},
{"n":340,"o":1.19278,"h":1.19291,"l":1.19215,"c":1.19284,"k":10.3},
{"n":341,"o":1.19284,"h":1.19299,"l":1.19249,"c":1.19281,"k":12.8},
{"n":342,"o":1.19281,"h":1.19288,"l":1.19271,"c":1.19278,"k":15.6},
{"n":343,"o":1.19278,"h":1.19353,"l":1.19271,"c":1.19331,"k":15.1},
{"n":344,"o":1.19331,"h":1.19338,"l":1.19233,"c":1.1924,"k":13.5},
{"n":345,"o":1.1924,"h":1.19247,"l":1.19186,"c":1.19202,"k":12.4},
{"n":346,"o":1.19202,"h":1.19324,"l":1.19195,"c":1.19284,"k":11.4},
{"n":347,"o":1.19284,"h":1.19321,"l":1.1917,"c":1.19177,"k":11.8},
{"n":348,"o":1.19177,"h":1.19324,"l":1.1917,"c":1.19231,"k":13.1},
{"n":349,"o":1.19231,"h":1.19334,"l":1.19215,"c":1.19294,"k":14.6},
{"n":350,"o":1.19294,"h":1.19309,"l":1.19204,"c":1.19211,"k":14.2},
{"n":351,"o":1.19211,"h":1.19249,"l":1.19183,"c":1.19214,"k":10.4},
{"n":352,"o":1.19211,"h":1.19259,"l":1.19186,"c":1.19227,"k":9.6},
{"n":353,"o":1.19227,"h":1.19234,"l":1.1919,"c":1.19209,"k":10.7},
{"n":354,"o":1.19209,"h":1.19259,"l":1.19168,"c":1.19231,"k":14.2},
{"n":355,"o":1.19231,"h":1.19328,"l":1.19224,"c":1.19303,"k":20.4},
{"n":356,"o":1.19303,"h":1.19337,"l":1.19296,"c":1.1933,"k":26},
{"n":357,"o":1.1933,"h":1.19337,"l":1.19308,"c":1.19315,"k":28.8},
{"n":358,"o":1.19315,"h":1.19347,"l":1.19308,"c":1.19334,"k":31.5},
{"n":359,"o":1.19334,"h":1.19384,"l":1.19315,"c":1.19372,"k":35},
{"n":360,"o":1.19372,"h":1.19381,"l":1.19365,"c":1.19374,"k":37.5},
{"n":361,"o":1.19374,"h":1.19384,"l":1.19355,"c":1.19362,"k":37.8},
{"n":362,"o":1.19362,"h":1.19378,"l":1.19353,"c":1.19368,"k":36.8},
{"n":363,"o":1.19362,"h":1.19369,"l":1.19346,"c":1.19353,"k":35},
{"n":364,"o":1.19353,"h":1.19362,"l":1.19317,"c":1.19324,"k":31.8},
{"n":365,"o":1.19324,"h":1.19359,"l":1.19273,"c":1.1928,"k":29.4},
{"n":366,"o":1.1928,"h":1.19335,"l":1.19273,"c":1.19328,"k":34.3},
{"n":367,"o":1.19328,"h":1.1939,"l":1.19321,"c":1.19374,"k":51},
{"n":368,"o":1.19374,"h":1.19419,"l":1.19346,"c":1.19353,"k":69},
{"n":369,"o":1.19353,"h":1.19456,"l":1.19328,"c":1.19449,"k":82.9},
{"n":370,"o":1.19449,"h":1.19472,"l":1.19442,"c":1.19452,"k":91.9},
{"n":371,"o":1.19452,"h":1.19491,"l":1.19445,"c":1.19482,"k":94.3},
{"n":372,"o":1.19482,"h":1.19491,"l":1.19452,"c":1.19459,"k":89.9},
{"n":373,"o":1.19461,"h":1.19468,"l":1.19405,"c":1.19412,"k":81.8},
{"n":374,"o":1.19412,"h":1.19422,"l":1.1939,"c":1.19397,"k":71.8},
{"n":375,"o":1.19397,"h":1.19404,"l":1.19352,"c":1.19359,"k":68.3},
{"n":376,"o":1.19359,"h":1.19406,"l":1.19352,"c":1.19399,"k":57.9},
{"n":377,"o":1.19399,"h":1.19406,"l":1.19271,"c":1.19278,"k":49.6},
{"n":378,"o":1.19278,"h":1.19297,"l":1.19271,"c":1.1929,"k":39.2},
{"n":379,"o":1.19287,"h":1.19297,"l":1.19234,"c":1.1929,"k":44},
{"n":380,"o":1.1929,"h":1.19364,"l":1.19278,"c":1.19357,"k":49.6},
{"n":381,"o":1.19357,"h":1.19367,"l":1.1935,"c":1.1936,"k":65.6},
{"n":382,"o":1.1936,"h":1.19541,"l":1.19353,"c":1.19503,"k":72.5},
{"n":383,"o":1.19503,"h":1.19545,"l":1.19452,"c":1.19459,"k":80.1},
{"n":384,"o":1.19459,"h":1.19466,"l":1.19446,"c":1.19453,"k":73.9},
{"n":385,"o":1.19453,"h":1.19474,"l":1.19377,"c":1.19384,"k":64.2},
{"n":386,"o":1.19384,"h":1.19391,"l":1.19315,"c":1.19372,"k":67.6},
{"n":387,"o":1.19372,"h":1.19996,"l":1.19365,"c":1.19942,"k":75.3},
{"n":388,"o":1.19942,"h":1.19968,"l":1.19873,"c":1.19961,"k":87.1},
{"n":389,"o":1.19961,"h":1.20162,"l":1.19954,"c":1.20051,"k":88.8},
{"n":390,"o":1.20051,"h":1.20174,"l":1.20044,"c":1.20105,"k":87.1},
{"n":391,"o":1.20105,"h":1.20137,"l":1.19955,"c":1.19976,"k":84.6},
{"n":392,"o":1.19976,"h":1.20068,"l":1.19898,"c":1.19989,"k":80.1},
{"n":393,"o":1.19989,"h":1.20026,"l":1.19942,"c":1.19946,"k":78.1},
{"n":394,"o":1.19946,"h":1.19965,"l":1.19939,"c":1.19958,"k":74.3},
{"n":395,"o":1.19958,"h":1.19965,"l":1.19735,"c":1.19854,"k":71.4},
{"n":396,"o":1.19854,"h":1.19884,"l":1.19847,"c":1.19877,"k":67.4},
{"n":397,"o":1.19877,"h":1.19884,"l":1.19816,"c":1.19823,"k":61.8},
{"n":398,"o":1.19823,"h":1.1983,"l":1.19716,"c":1.19723,"k":52.4},
{"n":399,"o":1.19723,"h":1.1973,"l":1.19516,"c":1.19579,"k":43.3},
{"n":400,"o":1.19579,"h":1.19598,"l":1.19516,"c":1.19591,"k":38.8},
{"n":401,"o":1.19591,"h":1.19611,"l":1.19584,"c":1.19604,"k":40.6},
{"n":402,"o":1.19604,"h":1.19675,"l":1.19597,"c":1.19644,"k":40.3},
{"n":403,"o":1.19644,"h":1.19651,"l":1.19578,"c":1.19585,"k":37.1},
{"n":404,"o":1.19585,"h":1.19592,"l":1.19407,"c":1.19482,"k":34.6},
{"n":405,"o":1.19482,"h":1.1965,"l":1.19475,"c":1.19585,"k":34},
{"n":406,"o":1.19585,"h":1.19647,"l":1.19576,"c":1.19583,"k":36.8},
{"n":407,"o":1.19583,"h":1.19616,"l":1.19559,"c":1.19566,"k":34.3},
{"n":408,"o":1.19566,"h":1.19573,"l":1.1949,"c":1.19497,"k":30.8},
{"n":409,"o":1.19497,"h":1.19504,"l":1.19467,"c":1.19474,"k":27.4},
{"n":410,"o":1.19474,"h":1.19494,"l":1.19465,"c":1.19487,"k":27.1},
{"n":411,"o":1.19487,"h":1.195,"l":1.1948,"c":1.19493,"k":29.3},
{"n":412,"o":1.19493,"h":1.19548,"l":1.19486,"c":1.19541,"k":30.4},
{"n":413,"o":1.19541,"h":1.19591,"l":1.19534,"c":1.19553,"k":29},
{"n":414,"o":1.19553,"h":1.19587,"l":1.19496,"c":1.19503,"k":29},
{"n":415,"o":1.19503,"h":1.19607,"l":1.19474,"c":1.196,"k":29.3},
{"n":416,"o":1.196,"h":1.19607,"l":1.19559,"c":1.19566,"k":32.6},
{"n":417,"o":1.19566,"h":1.19616,"l":1.19559,"c":1.19591,"k":34.6},
{"n":418,"o":1.19591,"h":1.19654,"l":1.19584,"c":1.19647,"k":36.4},
{"n":419,"o":1.19647,"h":1.19688,"l":1.1964,"c":1.19664,"k":37.1},
{"n":420,"o":1.19664,"h":1.19698,"l":1.19578,"c":1.19585,"k":30.1},
{"n":421,"o":1.19585,"h":1.19592,"l":1.19528,"c":1.19535,"k":19},
{"n":422,"o":1.19535,"h":1.19542,"l":1.19447,"c":1.19459,"k":11.8},
{"n":423,"o":1.19459,"h":1.19473,"l":1.19415,"c":1.19466,"k":9.3},
{"n":424,"o":1.19466,"h":1.19498,"l":1.19459,"c":1.19491,"k":11.8},
{"n":425,"o":1.19491,"h":1.19535,"l":1.19484,"c":1.19518,"k":13.2},
{"n":426,"o":1.19518,"h":1.19525,"l":1.19455,"c":1.19462,"k":12.4},
{"n":427,"o":1.19462,"h":1.19497,"l":1.19412,"c":1.19419,"k":10},
{"n":428,"o":1.19419,"h":1.19428,"l":1.19412,"c":1.19421,"k":11.4},
{"n":429,"o":1.19421,"h":1.19441,"l":1.19296,"c":1.19399,"k":11},
{"n":430,"o":1.19399,"h":1.19406,"l":1.19317,"c":1.19324,"k":11.8},
{"n":431,"o":1.19324,"h":1.19385,"l":1.19309,"c":1.19378,"k":14.9},
{"n":432,"o":1.19378,"h":1.19459,"l":1.19371,"c":1.19412,"k":25.3},
{"n":433,"o":1.19412,"h":1.19484,"l":1.19378,"c":1.19477,"k":35.7},
{"n":434,"o":1.19477,"h":1.19491,"l":1.19422,"c":1.19479,"k":43.3},
{"n":435,"o":1.19462,"h":1.1951,"l":1.19455,"c":1.19478,"k":45.1},
{"n":436,"o":1.19462,"h":1.195,"l":1.19455,"c":1.19491,"k":44},
{"n":437,"o":1.19491,"h":1.19498,"l":1.19403,"c":1.19432,"k":33},
{"n":438,"o":1.19432,"h":1.19478,"l":1.19358,"c":1.19365,"k":45},
{"n":439,"o":1.19365,"h":1.20041,"l":1.19358,"c":1.20034,"k":62},
{"n":440,"o":1.20034,"h":1.20259,"l":1.20027,"c":1.20114,"k":84.3},
{"n":441,"o":1.20114,"h":1.20325,"l":1.20107,"c":1.20318,"k":91.5},
{"n":442,"o":1.20318,"h":1.2044,"l":1.20311,"c":1.2034,"k":93.5},
{"n":443,"o":1.2034,"h":1.20481,"l":1.20318,"c":1.20473,"k":96.1},
{"n":444,"o":1.20473,"h":1.20588,"l":1.20393,"c":1.204,"k":92.2},
{"n":445,"o":1.204,"h":1.20563,"l":1.20393,"c":1.20485,"k":91.3},
{"n":446,"o":1.20485,"h":1.20494,"l":1.20412,"c":1.20469,"k":89.2},
{"n":447,"o":1.20469,"h":1.20476,"l":1.20325,"c":1.20341,"k":87.4},
{"n":448,"o":1.20341,"h":1.20394,"l":1.20312,"c":1.20387,"k":84.3},
{"n":449,"o":1.20387,"h":1.20412,"l":1.20318,"c":1.20375,"k":82.9},
{"n":450,"o":1.20375,"h":1.20473,"l":1.20311,"c":1.20318,"k":82.5},
{"n":451,"o":1.20318,"h":1.20373,"l":1.203,"c":1.20366,"k":82.5},
{"n":452,"o":1.20366,"h":1.2045,"l":1.20359,"c":1.20415,"k":84},
{"n":453,"o":1.20415,"h":1.20422,"l":1.2038,"c":1.20387,"k":84.9},
{"n":454,"o":1.20387,"h":1.20394,"l":1.20365,"c":1.20372,"k":82.9},
{"n":455,"o":1.20372,"h":1.20379,"l":1.20277,"c":1.20306,"k":80.8},
{"n":456,"o":1.20306,"h":1.20343,"l":1.20299,"c":1.20327,"k":79.4},
{"n":457,"o":1.20327,"h":1.20334,"l":1.20285,"c":1.2031,"k":79.9},
{"n":458,"o":1.2031,"h":1.20353,"l":1.20303,"c":1.20346,"k":80.6},
{"n":459,"o":1.20346,"h":1.204,"l":1.20339,"c":1.2038,"k":81.5},
{"n":460,"o":1.2038,"h":1.20387,"l":1.20345,"c":1.20352,"k":83.6},
{"n":461,"o":1.20352,"h":1.20432,"l":1.2031,"c":1.20425,"k":86.8},
{"n":462,"o":1.20425,"h":1.20661,"l":1.20418,"c":1.20575,"k":89.9},
{"n":463,"o":1.20575,"h":1.20641,"l":1.20557,"c":1.20582,"k":92.6},
{"n":464,"o":1.20582,"h":1.20611,"l":1.20513,"c":1.20532,"k":92.4},
{"n":465,"o":1.20532,"h":1.20536,"l":1.20518,"c":1.20527,"k":91.5}
]},
"vconcat":[
{
"width":2524,"height":923,
"resolve":{"axis":{"x":"independent","y":"independent"}},
"layer":[
{"data":{"values":[
{"g":"XAB","k":0,"n":203.7,"p":1.20891},{"g":"XAB","k":1,"n":346.5,"p":1.19165},{"g":"XAB","k":2,"n":389.6,"p":1.20177},
{"g":"BCD","k":0,"n":389.6,"p":1.20177},{"g":"BCD","k":1,"n":428.6,"p":1.19296},{"g":"BCD","k":2,"n":461.5,"p":1.2059}]},
"mark":{"type":"line","interpolate":"linear-closed","filled":true,"color":"#EEE8EE","strokeWidth":0},
"encoding":{"x":{"field":"n","type":"quantitative","scale":{"domain":[-22.47,529.6],"nice":false,"zero":false},"axis":null},
"y":{"field":"p","type":"quantitative","scale":{"domain":[1.187284,1.209968],"nice":false,"zero":false},"axis":null},
"detail":{"field":"g","type":"nominal"},"order":{"field":"k","type":"quantitative"}}},
{"data":{"values":[{}]},"mark":{"type":"rule","color":"#E0594A","strokeWidth":1,"strokeDash":[3,3]},
"encoding":{"y":{"datum":1.20527,"type":"quantitative","scale":{"domain":[1.187284,1.209968],"nice":false,"zero":false},"axis":null}}},
{"data":{"values":[{"n1":204.6,"p":1.20893,"lv":"100.00%"},{"n1":204.6,"p":1.2052,"lv":"78.60%"},{"n1":204.6,"p":1.19152,"lv":"0.00%"},{"n1":345.6,"p":1.20661,"lv":"0.00%"},{"n1":345.6,"p":1.20093,"lv":"38.20%"},{"n1":345.6,"p":1.19742,"lv":"61.80%"},{"n1":345.6,"p":1.19174,"lv":"100.00%"}]},
"mark":{"type":"rule","strokeWidth":1.6,"strokeDash":[1.6,4.4],"strokeCap":"round"},
"encoding":{"x":{"field":"n1","type":"quantitative","scale":{"domain":[-22.47,529.6],"nice":false,"zero":false},"axis":null},"x2":{"datum":528.6},
"y":{"field":"p","type":"quantitative","scale":{"domain":[1.187284,1.209968],"nice":false,"zero":false},"axis":null},
"color":{"field":"lv","type":"nominal","scale":{"domain":["0.00%","100.00%","78.60%","38.20%","61.80%"],"range":["#9b9b9b","#9b9b9b","#7fb3e6","#7fb3e6","#d6a521"]},"legend":null}}},
{"data":{"values":[{"n1":203.7,"p1":1.20893,"n2":345.0,"p2":1.19152},{"n1":346.5,"p1":1.19174,"n2":461.6,"p2":1.20661}]},
"mark":{"type":"rule","color":"#a3a3a3","strokeWidth":1.2,"strokeDash":[1.5,2.5]},
"encoding":{"x":{"field":"n1","type":"quantitative","scale":{"domain":[-22.47,529.6],"nice":false,"zero":false},"axis":null},"x2":{"field":"n2"},
"y":{"field":"p1","type":"quantitative","scale":{"domain":[1.187284,1.209968],"nice":false,"zero":false},"axis":null},"y2":{"field":"p2"}}},
{"data":{"name":"bars"},"mark":{"type":"rule","color":"#777777","strokeWidth":1},
"encoding":{"x":{"field":"n","type":"quantitative","scale":{"domain":[-22.47,529.6],"nice":false,"zero":false},"axis":null},
"y":{"field":"l","type":"quantitative","scale":{"domain":[1.187284,1.209968],"nice":false,"zero":false},
"axis":{"orient":"right","title":null,"values":[1.188,1.189,1.19,1.191,1.192,1.193,1.194,1.195,1.196,1.197,1.198,1.199,1.2,1.202,1.203,1.204,1.207,1.208,1.209],"format":".5f","tickSize":4,"labelPadding":2,"labelOverlap":false,"labelFlush":false}},
"y2":{"field":"h"}}},
{"data":{"name":"bars"},"mark":{"type":"bar","width":3.1,"strokeWidth":0.6},
"encoding":{"x":{"field":"n","type":"quantitative","scale":{"domain":[-22.47,529.6],"nice":false,"zero":false},"axis":null},
"y":{"field":"o","type":"quantitative","scale":{"domain":[1.187284,1.209968],"nice":false,"zero":false},"axis":null},
"y2":{"field":"c"},
"fill":{"condition":{"test":"datum.c >= datum.o","value":"#3B8A58"},"value":"#D63A2B"},
"stroke":{"condition":{"test":"datum.c >= datum.o","value":"#1D4F2E"},"value":"#6A1A12"}}},
{"data":{"values":[{"n1":204.6,"p":1.20893,"lv":"100.00%"},{"n1":204.6,"p":1.2052,"lv":"78.60%"},{"n1":204.6,"p":1.19152,"lv":"0.00%"},{"n1":345.6,"p":1.20661,"lv":"0.00%"},{"n1":345.6,"p":1.20093,"lv":"38.20%"},{"n1":345.6,"p":1.19742,"lv":"61.80%"},{"n1":345.6,"p":1.19174,"lv":"100.00%"}]},
"mark":{"type":"text","align":"right","baseline":"middle","dx":-4,"fontSize":13,"font":"DejaVu Sans"},
"encoding":{"x":{"field":"n1","type":"quantitative","scale":{"domain":[-22.47,529.6],"nice":false,"zero":false},"axis":null},
"y":{"field":"p","type":"quantitative","scale":{"domain":[1.187284,1.209968],"nice":false,"zero":false},"axis":null},
"text":{"field":"lv"},
"color":{"field":"lv","type":"nominal","scale":{"domain":["0.00%","100.00%","78.60%","38.20%","61.80%"],"range":["#9b9b9b","#9b9b9b","#7fb3e6","#7fb3e6","#d6a521"]},"legend":null}}},
{"data":{"values":[{"n1":201.4,"p":1.20928},{"n1":207.4,"p":1.20587}]},
"mark":{"type":"rule","color":"#D50000","strokeWidth":3},
"encoding":{"x":{"field":"n1","type":"quantitative","scale":{"domain":[-22.47,529.6],"nice":false,"zero":false},"axis":null},"x2":{"datum":529.6},
"y":{"field":"p","type":"quantitative","scale":{"domain":[1.187284,1.209968],"nice":false,"zero":false},"axis":null}}},
{"data":{"values":[{"n1":388.4,"p":1.20113}]},
"mark":{"type":"rule","color":"#3A7D1C","strokeWidth":3,"strokeDash":[9,5]},
"encoding":{"x":{"field":"n1","type":"quantitative","scale":{"domain":[-22.47,529.6],"nice":false,"zero":false},"axis":null},"x2":{"datum":529.6},
"y":{"field":"p","type":"quantitative","scale":{"domain":[1.187284,1.209968],"nice":false,"zero":false},"axis":null}}},
{"data":{"values":[{"n1":419.3,"p":1.19724}]},
"mark":{"type":"rule","color":"#3A7D1C","strokeWidth":3},
"encoding":{"x":{"field":"n1","type":"quantitative","scale":{"domain":[-22.47,529.6],"nice":false,"zero":false},"axis":null},"x2":{"datum":529.6},
"y":{"field":"p","type":"quantitative","scale":{"domain":[1.187284,1.209968],"nice":false,"zero":false},"axis":null}}},
{"data":{"values":[{"p":1.20928,"t":"Major Resistance"},{"p":1.20587,"t":"Major Resistance"}]},
"mark":{"type":"text","align":"right","baseline":"bottom","dy":-2,"font":"DejaVu Sans","fontWeight":"bold","fontSize":15.5,"color":"#D50000"},
"encoding":{"x":{"datum":528.1,"type":"quantitative","scale":{"domain":[-22.47,529.6],"nice":false,"zero":false},"axis":null},
"y":{"field":"p","type":"quantitative","scale":{"domain":[1.187284,1.209968],"nice":false,"zero":false},"axis":null},"text":{"field":"t"}}},
{"data":{"values":[{"p":1.19724,"t":"Major Support"}]},
"mark":{"type":"text","align":"right","baseline":"bottom","dy":-2,"font":"DejaVu Sans","fontWeight":"bold","fontSize":15.5,"color":"#3A7D1C"},
"encoding":{"x":{"datum":528.1,"type":"quantitative","scale":{"domain":[-22.47,529.6],"nice":false,"zero":false},"axis":null},
"y":{"field":"p","type":"quantitative","scale":{"domain":[1.187284,1.209968],"nice":false,"zero":false},"axis":null},"text":{"field":"t"}}},
{"data":{"values":[{"n1":471.4,"p1":1.20579,"n2":484.5,"p2":1.19723},{"n1":481.9,"p1":1.1976,"n2":484.5,"p2":1.19723},{"n1":486.1,"p1":1.19763,"n2":484.5,"p2":1.19723}]},
"mark":{"type":"rule","color":"#D50000","strokeWidth":3,"strokeCap":"round"},
"encoding":{"x":{"field":"n1","type":"quantitative","scale":{"domain":[-22.47,529.6],"nice":false,"zero":false},"axis":null},"x2":{"field":"n2"},
"y":{"field":"p1","type":"quantitative","scale":{"domain":[1.187284,1.209968],"nice":false,"zero":false},"axis":null},"y2":{"field":"p2"}}},
{"data":{"values":[{"p":1.20928,"t":"1.20928","kind":"res"},{"p":1.20587,"t":"1.20587","kind":"res"},{"p":1.20527,"t":"1.20527","kind":"cur"},{"p":1.20113,"t":"1.20113","kind":"sup"},{"p":1.19724,"t":"1.19724","kind":"sup"}]},
"mark":{"type":"point","shape":"M-1,-0.3125H1V0.3125H-1Z","size":2304,"filled":true,"opacity":1,"strokeWidth":0},
"encoding":{"x":{"datum":535.1,"type":"quantitative","scale":{"domain":[-22.47,529.6],"nice":false,"zero":false},"axis":null},
"y":{"field":"p","type":"quantitative","scale":{"domain":[1.187284,1.209968],"nice":false,"zero":false},"axis":null},
"fill":{"field":"kind","type":"nominal","scale":{"domain":["res","cur","sup"],"range":["#D50000","#E35D4B","#3A7D1C"]},"legend":null}}},
{"data":{"values":[{}]},
"mark":{"type":"point","shape":"M-1,-0.4286H1V0.4286H-1Z","size":1225,"filled":true,"opacity":1,"color":"#E35D4B","strokeWidth":0},
"encoding":{"x":{"datum":536.5,"type":"quantitative","scale":{"domain":[-22.47,529.6],"nice":false,"zero":false},"axis":null},
"y":{"datum":1.20488,"type":"quantitative","scale":{"domain":[1.187284,1.209968],"nice":false,"zero":false},"axis":null}}},
{"data":{"values":[{"p":1.20928,"t":"1.20928"},{"p":1.20587,"t":"1.20587"},{"p":1.20527,"t":"1.20527"},{"p":1.20113,"t":"1.20113"},{"p":1.19724,"t":"1.19724"}]},
"mark":{"type":"text","align":"center","baseline":"middle","font":"Liberation Sans","fontSize":11.5,"color":"#FFFFFF"},
"encoding":{"x":{"datum":535.0,"type":"quantitative","scale":{"domain":[-22.47,529.6],"nice":false,"zero":false},"axis":null},
"y":{"field":"p","type":"quantitative","scale":{"domain":[1.187284,1.209968],"nice":false,"zero":false},"axis":null},"text":{"field":"t"}}},
{"data":{"values":[{"p":1.20488,"t":"23:49"}]},
"mark":{"type":"text","align":"center","baseline":"middle","font":"Liberation Sans","fontSize":11.5,"color":"#FFFFFF"},
"encoding":{"x":{"datum":536.5,"type":"quantitative","scale":{"domain":[-22.47,529.6],"nice":false,"zero":false},"axis":null},
"y":{"field":"p","type":"quantitative","scale":{"domain":[1.187284,1.209968],"nice":false,"zero":false},"axis":null},"text":{"field":"t"}}},
{"data":{"values":[{}]},"mark":{"type":"rect","cornerRadius":8,"color":"#3a3a3a","opacity":0.85},
"encoding":{"x":{"datum":-9.3,"type":"quantitative","scale":{"domain":[-22.47,529.6],"nice":false,"zero":false},"axis":null},"x2":{"datum":35.6},
"y":{"datum":1.20901,"type":"quantitative","scale":{"domain":[1.187284,1.209968],"nice":false,"zero":false},"axis":null},"y2":{"datum":1.20759}}},
{"data":{"values":[{}]},"mark":{"type":"rect","cornerRadius":8,"color":"#FFFFFF","opacity":1},
"encoding":{"x":{"datum":-10.0,"type":"quantitative","scale":{"domain":[-22.47,529.6],"nice":false,"zero":false},"axis":null},"x2":{"datum":34.9},
"y":{"datum":1.20908,"type":"quantitative","scale":{"domain":[1.187284,1.209968],"nice":false,"zero":false},"axis":null},"y2":{"datum":1.20766}}},
{"data":{"values":[{"n":-6.5,"p":1.20837,"t":"EURUSD,M30"}]},
"mark":{"type":"text","align":"left","baseline":"middle","font":"Open Sans","fontSize":25,"color":"#111111"},
"encoding":{"x":{"field":"n","type":"quantitative","scale":{"domain":[-22.47,529.6],"nice":false,"zero":false},"axis":null},
"y":{"field":"p","type":"quantitative","scale":{"domain":[1.187284,1.209968],"nice":false,"zero":false},"axis":null},"text":{"field":"t"}}},
{"data":{"values":[{"n":-20.6,"p":1.20955,"t":"⊟"}]},
"mark":{"type":"text","align":"center","baseline":"middle","font":"DejaVu Sans","fontSize":14,"color":"#808080"},
"encoding":{"x":{"field":"n","type":"quantitative","scale":{"domain":[-22.47,529.6],"nice":false,"zero":false},"axis":null},
"y":{"field":"p","type":"quantitative","scale":{"domain":[1.187284,1.209968],"nice":false,"zero":false},"axis":null},"text":{"field":"t"}}}
]
},
{
"width":2524,"height":257,
"resolve":{"axis":{"x":"independent","y":"independent"}},
"layer":[
{"data":{"values":[{}]},"mark":{"type":"rule","color":"#555555","strokeWidth":1.2},
"encoding":{"x":{"datum":-22.47,"type":"quantitative","scale":{"domain":[-22.47,529.6],"nice":false,"zero":false},"axis":null},"x2":{"datum":529.6},
"y":{"datum":104.3,"type":"quantitative","scale":{"domain":[-3.2,104.3],"nice":false,"zero":false},"axis":null}}},
{"data":{"name":"bars"},"mark":{"type":"line","color":"#3C84C6","strokeWidth":2.8,"interpolate":"linear"},
"encoding":{"x":{"field":"n","type":"quantitative","scale":{"domain":[-22.47,529.6],"nice":false,"zero":false},
"axis":{"orient":"bottom","title":null,"values":[0,24,48,96,120,144,168,192,216,240,265.5,288,312,336,360,384,408,432,456,480,505.5,528],
"labelExpr":"['12:00','29','12:00','2','12:00','3','12:00','4','12:00','5','12:00','8','12:00','9','12:00','10','12:00','11','12:00','12','12:00','15','12:0'][round(datum.value/24)]",
"tickSize":4,"labelPadding":1,"labelOverlap":false,"labelFlush":false}},
"y":{"field":"k","type":"quantitative","scale":{"domain":[-3.2,104.3],"nice":false,"zero":false},
"axis":{"orient":"right","title":null,"values":[0,20,40,60,80],"format":".4f","tickSize":4,"labelPadding":2,"labelOverlap":false,"labelFlush":false}}}},
{"data":{"values":[{}]},"mark":{"type":"rule","color":"#FF0000","strokeWidth":2.6,"strokeDash":[6,4]},
"encoding":{"x":{"datum":64.7,"type":"quantitative","scale":{"domain":[-22.47,529.6],"nice":false,"zero":false},"axis":null},"x2":{"datum":529.6},
"y":{"datum":97.4774,"type":"quantitative","scale":{"domain":[-3.2,104.3],"nice":false,"zero":false},"axis":null}}},
{"data":{"values":[{}]},"mark":{"type":"point","shape":"circle","size":110,"filled":true,"color":"#EBF8FE","stroke":"#555555","strokeWidth":1.6,"opacity":1},
"encoding":{"x":{"datum":64.7,"type":"quantitative","scale":{"domain":[-22.47,529.6],"nice":false,"zero":false},"axis":null},
"y":{"datum":97.4774,"type":"quantitative","scale":{"domain":[-3.2,104.3],"nice":false,"zero":false},"axis":null}}},
{"data":{"values":[{"n":2.6},{"n":6.3},{"n":10.0},{"n":13.9}]},
"mark":{"type":"point","shape":"square","size":144,"filled":true,"color":"#C8D1D8","opacity":1},
"encoding":{"x":{"field":"n","type":"quantitative","scale":{"domain":[-22.47,529.6],"nice":false,"zero":false},"axis":null},
"y":{"datum":97.2,"type":"quantitative","scale":{"domain":[-3.2,104.3],"nice":false,"zero":false},"axis":null}}},
{"data":{"values":[{"n":-21.99,"t":"Stoch (34, 5, 3)"},{"n":-2.6,"t":"▾"}]},
"mark":{"type":"text","align":"left","baseline":"middle","font":"Liberation Sans","fontSize":11.5,"color":"#555555"},
"encoding":{"x":{"field":"n","type":"quantitative","scale":{"domain":[-22.47,529.6],"nice":false,"zero":false},"axis":null},
"y":{"datum":97.2,"type":"quantitative","scale":{"domain":[-3.2,104.3],"nice":false,"zero":false},"axis":null},"text":{"field":"t"}}},
{"data":{"values":[{"n":17.1,"t":"91.5385"}]},
"mark":{"type":"text","align":"left","baseline":"middle","font":"Liberation Sans","fontSize":11.5,"color":"#3C84C6"},
"encoding":{"x":{"field":"n","type":"quantitative","scale":{"domain":[-22.47,529.6],"nice":false,"zero":false},"axis":null},
"y":{"datum":97.2,"type":"quantitative","scale":{"domain":[-3.2,104.3],"nice":false,"zero":false},"axis":null},"text":{"field":"t"}}},
{"data":{"values":[{"n":28.1,"t":"89.7084"}]},
"mark":{"type":"text","align":"left","baseline":"middle","font":"Liberation Sans","fontSize":11.5,"color":"#FF0000"},
"encoding":{"x":{"field":"n","type":"quantitative","scale":{"domain":[-22.47,529.6],"nice":false,"zero":false},"axis":null},
"y":{"datum":97.2,"type":"quantitative","scale":{"domain":[-3.2,104.3],"nice":false,"zero":false},"axis":null},"text":{"field":"t"}}},
{"data":{"values":[{}]},
"mark":{"type":"point","shape":"M-1,-0.3125H1V0.3125H-1Z","size":2304,"filled":true,"opacity":1,"color":"#FF0000","strokeWidth":0},
"encoding":{"x":{"datum":535.1,"type":"quantitative","scale":{"domain":[-22.47,529.6],"nice":false,"zero":false},"axis":null},
"y":{"datum":97.4774,"type":"quantitative","scale":{"domain":[-3.2,104.3],"nice":false,"zero":false},"axis":null}}},
{"data":{"values":[{"t":"97.4774"}]},
"mark":{"type":"text","align":"center","baseline":"middle","font":"Liberation Sans","fontSize":11.5,"color":"#FFFFFF"},
"encoding":{"x":{"datum":535.0,"type":"quantitative","scale":{"domain":[-22.47,529.6],"nice":false,"zero":false},"axis":null},
"y":{"datum":97.4774,"type":"quantitative","scale":{"domain":[-3.2,104.3],"nice":false,"zero":false},"axis":null},"text":{"field":"t"}}},
{"data":{"values":[{}]},"mark":{"type":"rect","color":"#5A93C8","opacity":1},
"encoding":{"x":{"datum":53.6,"type":"quantitative","scale":{"domain":[-22.47,529.6],"nice":false,"zero":false},"axis":null},"x2":{"datum":76.5},
"y":{"datum":-3.7,"type":"quantitative","scale":{"domain":[-3.2,104.3],"nice":false,"zero":false},"axis":null},"y2":{"datum":-9.9}}},
{"data":{"values":[{"t":"2017-12-29 20:30:00"}]},
"mark":{"type":"text","align":"center","baseline":"middle","font":"Liberation Sans","fontSize":12,"color":"#FFFFFF"},
"encoding":{"x":{"datum":65.05,"type":"quantitative","scale":{"domain":[-22.47,529.6],"nice":false,"zero":false},"axis":null},
"y":{"datum":-6.9,"type":"quantitative","scale":{"domain":[-3.2,104.3],"nice":false,"zero":false},"axis":null},"text":{"field":"t"}}}
]
}
],
"config":{
"view":{"stroke":null},
"axis":{"grid":false,"labelFont":"Liberation Sans","labelFontSize":11.5,"labelColor":"#4a4a4a","domainColor":"#555555","tickColor":"#555555","domainWidth":1.2}
}
}
